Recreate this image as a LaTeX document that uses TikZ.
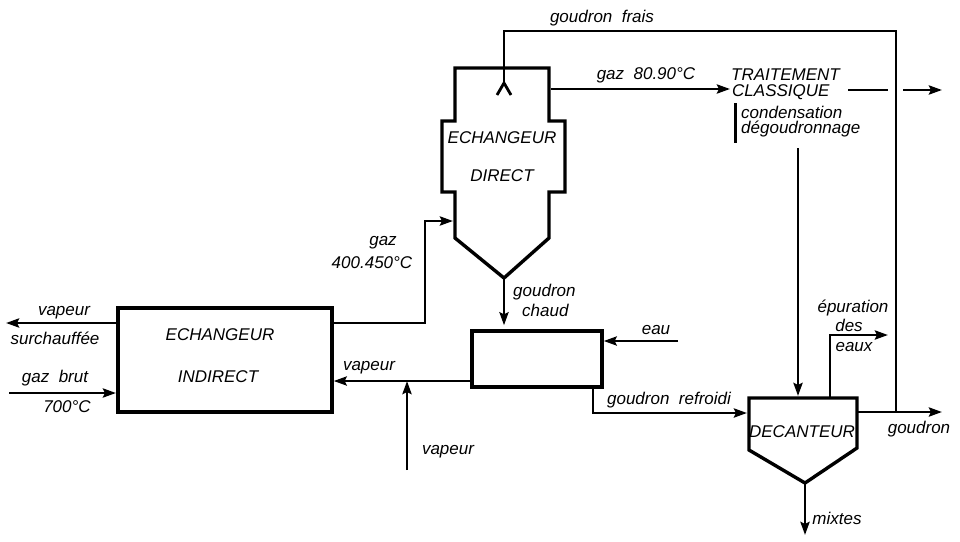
\documentclass[tikz,border=0pt]{standalone}
\usepackage{fontspec}
\setmainfont{Liberation Sans}
\usetikzlibrary{arrows.meta}
\begin{document}
\begin{tikzpicture}[x=1pt,y=-1pt,
  lbl/.style={font=\itshape\fontsize{17}{18}\selectfont, inner sep=0pt, text=black},
  flow/.style={line width=2.8pt, -{Stealth[length=13pt,width=9pt,inset=2pt]}},
  pipe/.style={line width=2.8pt},
  vessel/.style={line width=3.4pt, line join=miter}]
\useasboundingbox (0,0) rectangle (960,541);

% ---------- vessels ----------
\node[vessel, draw, minimum width=214pt, minimum height=104pt, inner sep=0pt] (ind) at (225,360) {};
\node[vessel, draw, minimum width=130pt, minimum height=56pt, inner sep=0pt] (cool) at (537,359) {};
\draw[vessel] (455,68) -- (549,68) -- (549,121) -- (565,121) -- (565,192) -- (549,192)
   -- (549,238) -- (504,278) -- (455,238) -- (455,192) -- (442,192) -- (442,121)
   -- (455,121) -- cycle;
\draw[vessel] (749,398) -- (857,398) -- (857,448) -- (805,483) -- (749,450) -- cycle;

% ---------- named points ----------
\coordinate (inlet) at (504,83);
\coordinate (gf1) at (504,31);
\coordinate (gf2) at (896,31);
\coordinate (gf3) at (896,412);
\coordinate (dirout) at (551,89);
\coordinate (trt) at (730,89);
\coordinate (dash1) at (848,90);
\coordinate (dash2) at (888,90);
\coordinate (out1) at (903,90);
\coordinate (out2) at (942,90);
\coordinate (bar1) at (735,103);
\coordinate (bar2) at (735,143);
\coordinate (cond) at (798,148);
\coordinate (dectop) at (798,396);
\coordinate (ep1) at (830,398);
\coordinate (ep2) at (830,335);
\coordinate (ep3) at (888,335);
\coordinate (decright) at (857,412);
\coordinate (gout) at (942,412);
\coordinate (decapex) at (805,483);
\coordinate (mix) at (805,535);
\coordinate (coolbot) at (593,387);
\coordinate (gr1) at (593,413);
\coordinate (decleft) at (747,413);
\coordinate (dirapex) at (504,278);
\coordinate (eau) at (678,341);
\coordinate (vap1) at (407,470);
\coordinate (vap2) at (407,381);
\coordinate (indout) at (332,323);
\coordinate (g1) at (425,323);
\coordinate (g2) at (425,221);
\coordinate (dirin) at (453,221);
\coordinate (sur) at (6,323);
\coordinate (indsur) at (118,323);
\coordinate (brut) at (9,393);
\coordinate (indbrut) at (116,393);

% ---------- connectors ----------
\draw[pipe] (inlet) -- (gf1) -- (gf2) -- (gf3);
\draw[pipe] (497,95) -- (inlet) -- (511,95);
\draw[flow] (dirout) -- (trt);
\draw[pipe] (dash1) -- (dash2);
\draw[flow] (out1) -- (out2);
\draw[line width=3pt] (bar1) -- (bar2);
\draw[flow] (cond) -- (dectop);
\draw[flow] (ep1) -- (ep2) -- (ep3);
\draw[flow] (decright) -- (gout);
\draw[flow] (decapex) -- (mix);
\draw[flow] (coolbot) -- (gr1) -- (decleft);
\draw[flow] (dirapex) -- ([yshift=4pt]cool.north -| dirapex);
\draw[flow] (eau) -- (eau -| cool.east);
\draw[flow] (cool.west |- vap2) -- (vap2 -| ind.east);
\draw[flow] (vap1) -- (vap2);
\draw[flow] (indout) -- (g1) -- (g2) -- (dirin);
\draw[flow] (indsur) -- (sur);
\draw[flow] (brut) -- (indbrut);

% ---------- labels ----------
\node[lbl] (tgf) at (602,18) {goudron\ \ frais};
\node[lbl] (tg80) at (646,75) {gaz\ \ 80.90°C};
\node[lbl, anchor=west] (ttr) at (731,75) {TRAITEMENT};
\node[lbl, anchor=west] (tcl) at (732,92) {CLASSIQUE};
\node[lbl, anchor=west] (tcd) at (741,112) {condensation};
\node[lbl, anchor=west] (tdg) at (741,129) {dégoudronnage};
\node[lbl] (tech1) at (502,138) {ECHANGEUR};
\node[lbl] (tdir) at (502,176) {DIRECT};
\node[lbl] (tgaz) at (383,243) {gaz};
\node[lbl] (t400) at (372,263) {400.450°C};
\node[lbl, anchor=west] (tgc1) at (513,292) {goudron};
\node[lbl, anchor=west] (tgc2) at (522,310) {chaud};
\node[lbl] (teau) at (656,330) {eau};
\node[lbl] (tvs1) at (64,313) {vapeur};
\node[lbl] (tvs2) at (55,338) {surchauffée};
\node[lbl] (tgb) at (55,378) {gaz\ \ brut};
\node[lbl] (t700) at (67,407) {700°C};
\node[lbl] (tech2) at (220,335) {ECHANGEUR};
\node[lbl] (tind) at (218,377) {INDIRECT};
\node[lbl] (tv1) at (369,368) {vapeur};
\node[lbl] (tv2) at (448,452) {vapeur};
\node[lbl] (tgr) at (669,400) {goudron\ \ refroidi};
\node[lbl] (tep) at (853,308) {épuration};
\node[lbl] (tdes) at (849,325) {des};
\node[lbl] (teaux) at (854,347) {eaux};
\node[lbl] (tdec) at (802,432) {DECANTEUR};
\node[lbl] (tgo) at (919,429) {goudron};
\node[lbl] (tmix) at (837,518) {mixtes};
\end{tikzpicture}
\end{document}
